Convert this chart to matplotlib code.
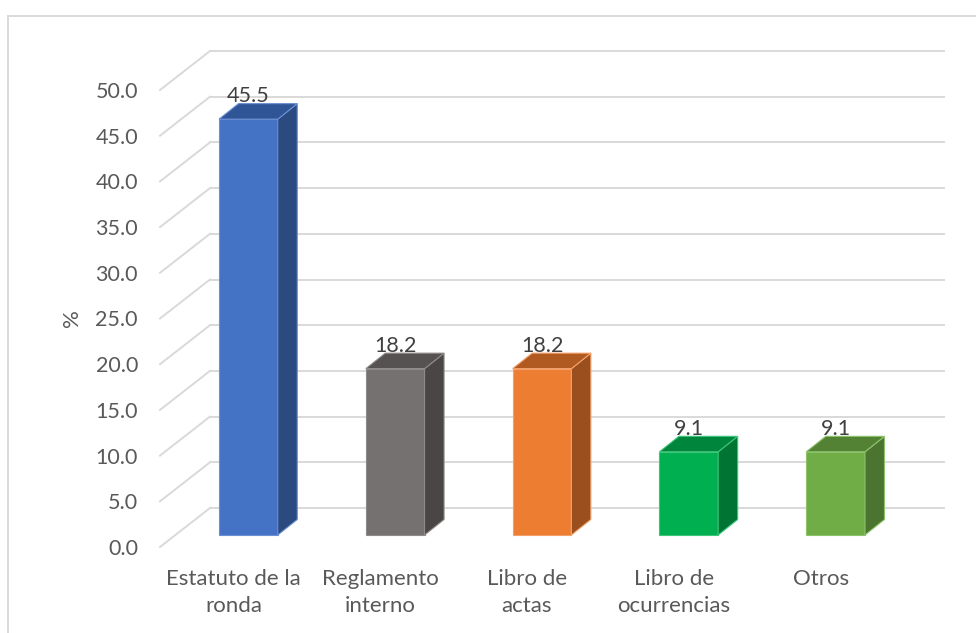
import matplotlib
matplotlib.use("Agg")
import matplotlib.pyplot as plt
from matplotlib.patches import Polygon, Rectangle
from matplotlib.lines import Line2D
import numpy as np

# ---- data ----
categories = ["Estatuto de la\nronda", "Reglamento\ninterno", "Libro de\nactas",
              "Libro de\nocurrencias", "Otros"]
values = [45.5, 18.2, 18.2, 9.1, 9.1]
value_labels = ["45.5", "18.2", "18.2", "9.1", "9.1"]
yticks = [0, 5, 10, 15, 20, 25, 30, 35, 40, 45, 50]
ytick_labels = ["0.0", "5.0", "10.0", "15.0", "20.0", "25.0", "30.0",
                "35.0", "40.0", "45.0", "50.0"]
y_title = "%"

# ---- styles ----
front_colors = ["#4472C4", "#767171", "#ED7D31", "#00B050", "#70AD47"]
side_colors = ["#2B4A80", "#4A4646", "#9C4F1E", "#007533", "#4A7430"]
top_colors = ["#2F5597", "#575252", "#B05A22", "#00853D", "#548235"]
edge_colors = ["#6A8FD3", "#8F8A8A", "#F4A06A", "#3CC67A", "#8CC36A"]
grid_color = "#D9D9D9"
text_color = "#595959"
label_color = "#404040"

plt.rcParams["font.family"] = ["Lato", "DejaVu Sans"]

W, H, DPI = 976, 633, 100
fig = plt.figure(figsize=(W / DPI, H / DPI), dpi=DPI)
fig.patch.set_facecolor("white")

ax = fig.add_axes([160 / W, 86 / H, 734 / W, 457 / H])
ax.set_xlim(-0.5, len(categories) - 0.5)
ax.set_ylim(0, 50)
ax.set_facecolor("none")
for s in ax.spines.values():
    s.set_visible(False)


def px2data(dx, dy):
    o = ax.transData.transform((0, 0))
    p = ax.transData.inverted().transform(o + np.array([dx, dy]))
    return p


D = px2data(50, 39)      # floor depth
F = px2data(15, 12)      # bar front plane
B = px2data(34.5, 27.5)  # bar back plane
dB = B - F

x0, x1 = ax.get_xlim()
for v in yticks:
    ax.add_line(Line2D([x0 + D[0], x1 + D[0]], [v + D[1], v + D[1]],
                       color=grid_color, lw=1.4, clip_on=False, zorder=1))
    ax.add_line(Line2D([x0, x0 + D[0]], [v, v + D[1]],
                       color=grid_color, lw=1.4, clip_on=False, zorder=1))

width = 0.4
xs = np.arange(len(categories))
ax.bar(xs + F[0], values, bottom=F[1], width=width, color=front_colors,
       edgecolor=edge_colors, linewidth=0.8, zorder=3, clip_on=False)

for i, v in enumerate(values):
    xl = xs[i] + F[0] - width / 2
    xr = xs[i] + F[0] + width / 2
    yb = F[1]
    yt = F[1] + v
    side = Polygon([(xr, yb), (xr, yt), (xr + dB[0], yt + dB[1]), (xr + dB[0], yb + dB[1])],
                   closed=True, facecolor=side_colors[i], edgecolor=edge_colors[i],
                   lw=0.8, zorder=3, clip_on=False)
    top = Polygon([(xl, yt), (xr, yt), (xr + dB[0], yt + dB[1]), (xl + dB[0], yt + dB[1])],
                  closed=True, facecolor=top_colors[i], edgecolor=edge_colors[i],
                  lw=0.8, zorder=3, clip_on=False)
    ax.add_patch(side)
    ax.add_patch(top)
    ax.annotate(value_labels[i], (xs[i] + F[0], yt), xytext=(0, 17 * 0.72),
                textcoords="offset points", ha="center", va="baseline",
                fontsize=15.5, color=label_color, zorder=5, annotation_clip=False)

ax.set_yticks(yticks, ytick_labels)
ax.tick_params(axis="y", length=0, pad=22 * 0.72, labelsize=15.5, labelcolor=text_color)
ax.set_xticks(xs, categories)
ax.tick_params(axis="x", length=0, pad=16, labelsize=16, labelcolor=text_color)
for t in ax.get_xticklabels():
    t.set_linespacing(1.4)

fig.text(72 / W, 1 - 318 / H, y_title, rotation=90, ha="center", va="center",
         fontsize=16, color=text_color)

fig.patches.append(Rectangle((8 / W, -0.1), 1.2, (H - 16) / H + 0.1,
                             transform=fig.transFigure, fill=False,
                             edgecolor=grid_color, lw=1.4))

fig.savefig("out.png", dpi=DPI, facecolor="white")
